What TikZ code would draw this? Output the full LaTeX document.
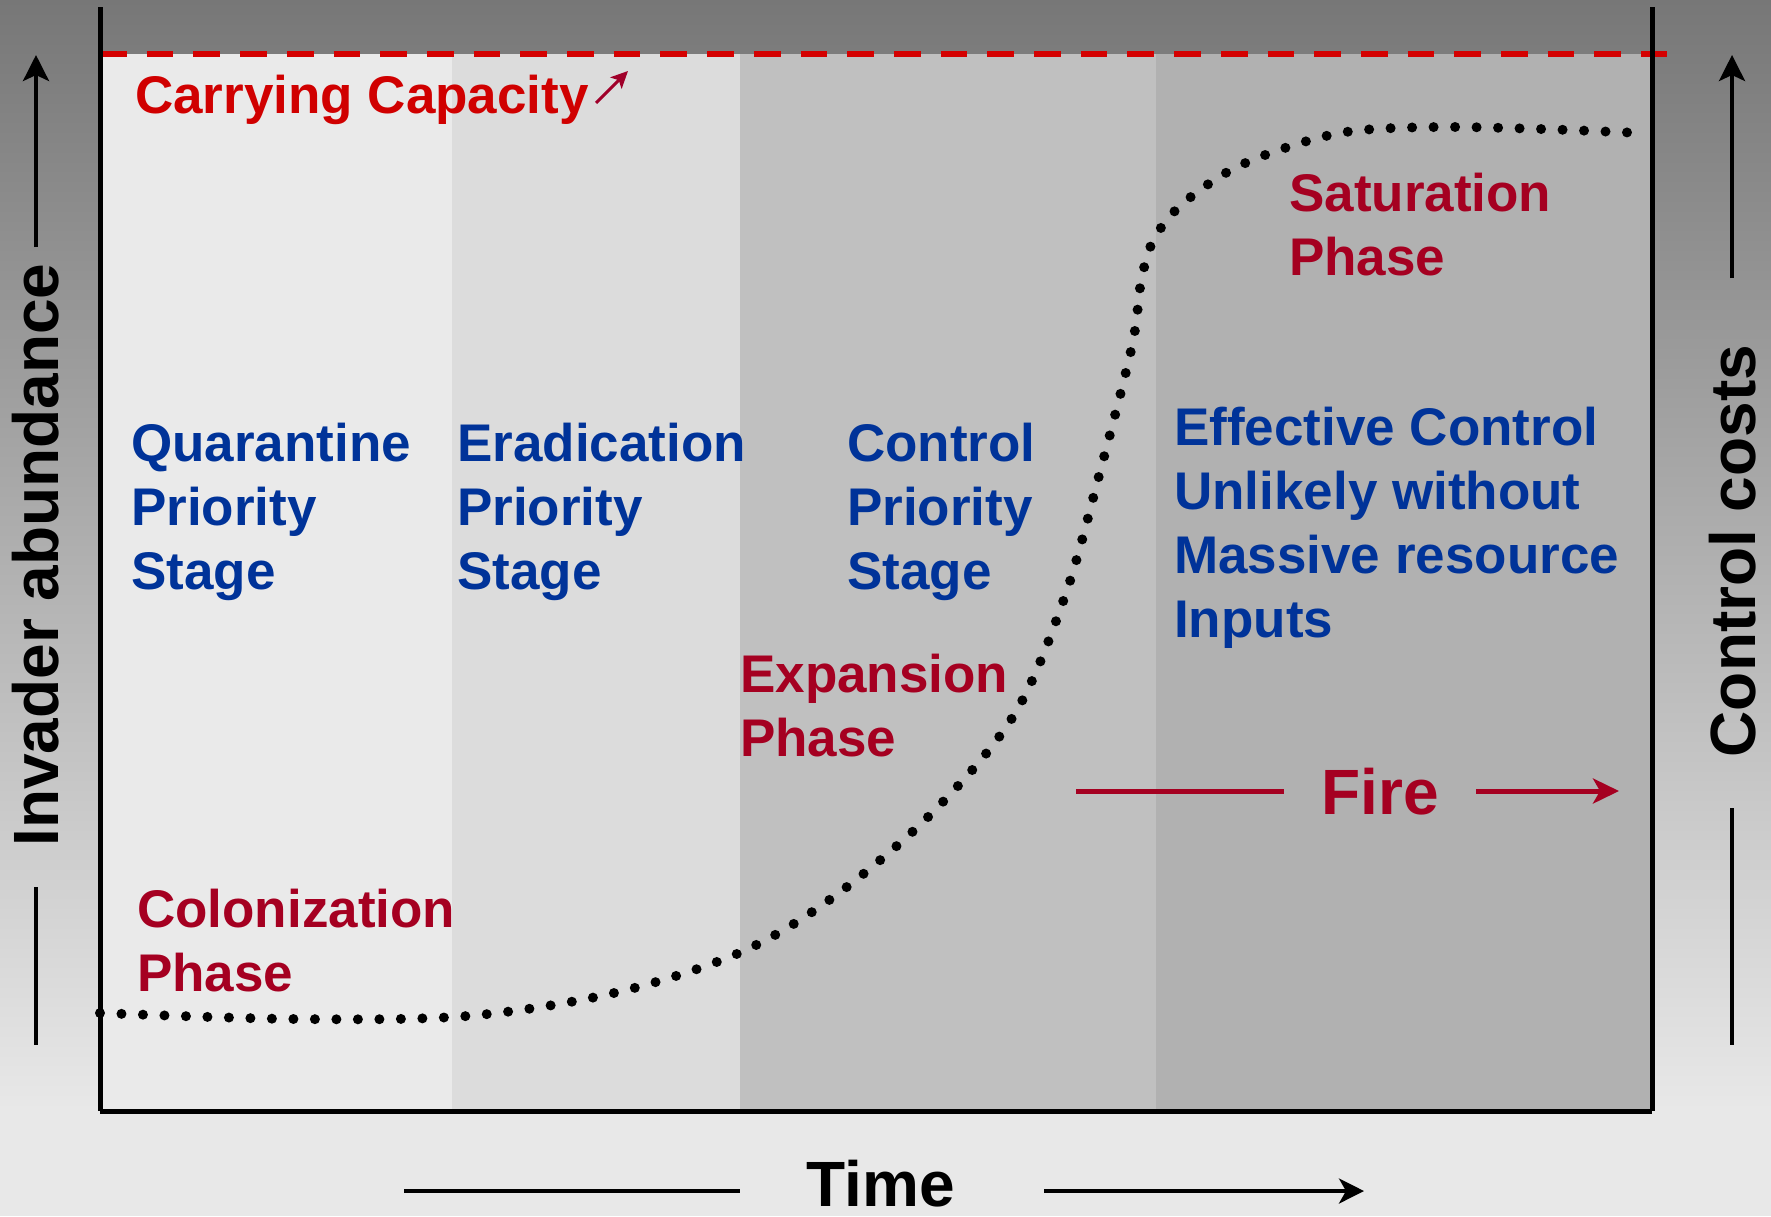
\documentclass[tikz,border=0pt]{standalone}
\usepackage{fontspec}
\setmainfont{Liberation Sans}
\usetikzlibrary{arrows.meta}

\definecolor{phasered}{HTML}{A50021}
\definecolor{stageblue}{HTML}{003399}
\definecolor{capred}{HTML}{D00000}
\definecolor{dashred}{HTML}{D40000}
\definecolor{arrowred}{HTML}{A0002A}
\definecolor{bgtop}{HTML}{777777}
\definecolor{bgbottom}{HTML}{E8E8E8}
\definecolor{panelA}{HTML}{EAEAEA}
\definecolor{panelB}{HTML}{DCDCDC}
\definecolor{panelC}{HTML}{C0C0C0}
\definecolor{panelD}{HTML}{B1B1B1}

% left-aligned block of lines whose baseline is the first line
\newcommand{\stackl}[1]{\begin{tabular}[t]{@{}l@{}}#1\end{tabular}}

\tikzset{
  lbl/.style={inner sep=0pt, anchor=base west, font=\bfseries\fontsize{53}{64}\selectfont},
  stage/.style={lbl, text=stageblue},
  phase/.style={lbl, text=phasered},
  biglbl/.style={inner sep=0pt, font=\bfseries\fontsize{64}{77}\selectfont},
  axislbl/.style={biglbl, rotate=90},
  axisline/.style={line width=4pt, black},
  axisarrow/.style={axisline, -{Stealth[length=26pt, width=26pt, inset=6pt]}},
  frameline/.style={line width=5pt, black},
  firearrow/.style={line width=5pt, phasered},
  curve/.style={line width=10pt, line cap=round, dash pattern=on 0pt off 21.5pt},
}

\begin{document}
\begin{tikzpicture}[x=1pt, y=-1pt]
\useasboundingbox (0,0) rectangle (1771,1216);

% background gradient
\fill[bgbottom] (0,0) rectangle (1771,1216);
\shade[top color=bgtop, bottom color=bgbottom] (0,0) rectangle (1771,1110);

% management stage panels
\fill[panelA] (100,54) rectangle (452,1110);
\fill[panelB] (452,54) rectangle (740,1110);
\fill[panelC] (740,54) rectangle (1156,1110);
\fill[panelD] (1156,54) rectangle (1652,1110);

% carrying capacity line
\coordinate (kL) at (100,54);
\coordinate (kR) at (1667,54);
\draw[dashred, line width=6pt, dash pattern=on 26.7pt off 20pt] (kL) -- (kR);

% frame
\coordinate (fTL) at (100,7);
\coordinate (fBL) at (100,1111);
\coordinate (fTR) at (1652,7);
\coordinate (fBR) at (1652,1111);
\draw[frameline] (fTL) -- (fBL);
\draw[frameline] (fTR) -- (fBR);
\draw[frameline] (fBL) -- (fBR);

% invasion curve
\draw[curve] plot[smooth, tension=0.55] coordinates {
  (100,1013) (294,1019) (467,1016) (614,993) (739,953) (832,898)
  (931,814) (1014,715) (1065,596) (1100,472) (1132,346) (1141,282)
  (1153,241) (1180,206) (1231,170) (1291,146) (1353,131) (1440,127)
  (1540,129) (1640,133)};

% labels
\node[lbl, text=capred] (cap) at (135,113) {Carrying Capacity};
\coordinate (capA) at (596,103);
\coordinate (capB) at (628,71);
\draw[arrowred, line width=3pt, -{Stealth[length=17pt, width=16pt, inset=4pt]}] (capA) -- (capB);

\node[stage] (quar) at (131,461) {\stackl{Quarantine\\Priority\\Stage}};
\node[stage] (erad) at (457,461) {\stackl{Eradication\\Priority\\Stage}};
\node[stage] (ctrl) at (847,461) {\stackl{Control\\Priority\\Stage}};
\node[stage] (eff) at (1174,445) {\stackl{Effective Control\\Unlikely without\\Massive resource\\Inputs}};

\node[phase] (sat) at (1289,211) {\stackl{Saturation\\Phase}};
\node[phase] (exp) at (740,692) {\stackl{Expansion\\Phase}};
\node[phase] (col) at (137,927) {\stackl{Colonization\\Phase}};

% fire arrow
\node[biglbl, text=phasered, anchor=base] (fire) at (1380,814) {Fire};
\coordinate (fA) at (1076,791);
\coordinate (fB) at (1284,791);
\coordinate (fC) at (1476,791);
\coordinate (fD) at (1619,791);
\draw[firearrow] (fA) -- (fB);
\draw[firearrow, -{Stealth[length=26pt, width=25pt, inset=7pt]}] (fC) -- (fD);

% time axis
\node[biglbl, anchor=base] (time) at (881,1206) {Time};
\coordinate (tA) at (404,1191);
\coordinate (tB) at (740,1191);
\coordinate (tC) at (1044,1191);
\coordinate (tD) at (1364,1191);
\draw[axisline] (tA) -- (tB);
\draw[axisarrow, -{Stealth[length=25pt, width=25pt, inset=7pt]}] (tC) -- (tD);

% abundance axis
\node[axislbl] (inv) at (36,555) {Invader abundance};
\coordinate (iA) at (36,247);
\coordinate (iB) at (36,55);
\coordinate (iC) at (36,887);
\coordinate (iD) at (36,1045);
\draw[axisarrow] (iA) -- (iB);
\draw[axisline] (iC) -- (iD);

% cost axis
\node[axislbl] (cost) at (1733,551) {Control costs};
\coordinate (cA) at (1732,278);
\coordinate (cB) at (1732,55);
\coordinate (cC) at (1732,808);
\coordinate (cD) at (1732,1045);
\draw[axisarrow] (cA) -- (cB);
\draw[axisline] (cC) -- (cD);
\end{tikzpicture}
\end{document}
